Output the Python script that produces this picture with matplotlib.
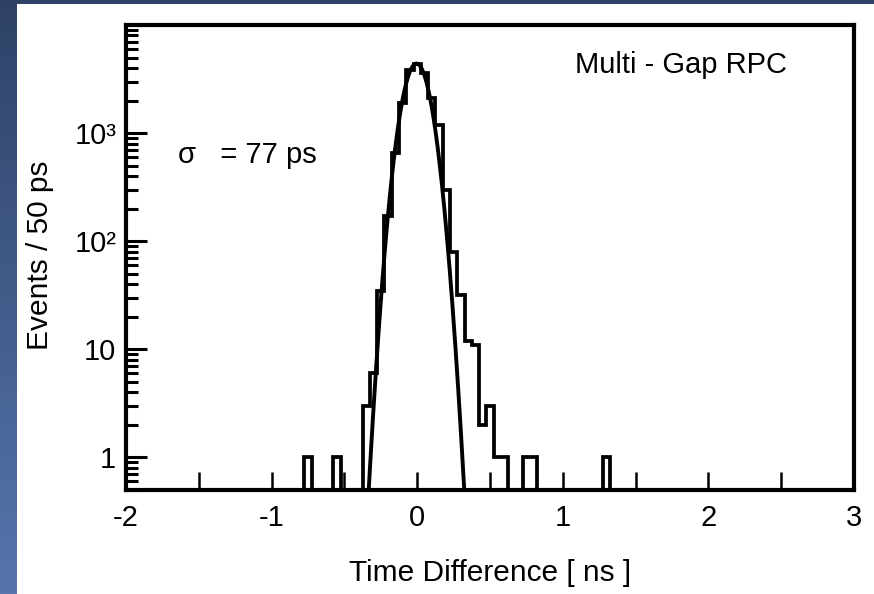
import numpy as np
import matplotlib
matplotlib.use("Agg")
import matplotlib.pyplot as plt
from matplotlib.patches import Rectangle
from matplotlib.ticker import FixedLocator, FixedFormatter, LogLocator, MultipleLocator, NullFormatter

plt.rcParams['font.family'] = ['Liberation Sans', 'DejaVu Sans']

# Time-difference histogram, 50 ps bins (bin centres in ns, entries per bin)
bin_width = 0.05
bin_centers = [-0.75, -0.55, -0.35, -0.30, -0.25, -0.20, -0.15, -0.10, -0.05,
               0.00, 0.05, 0.10, 0.15, 0.20, 0.25, 0.30, 0.35, 0.40, 0.45,
               0.50, 0.55, 0.60, 0.75, 0.80, 1.30]
counts = [1, 1, 3, 6, 35, 170, 650, 1900, 3800,
          4400, 3600, 2100, 1200, 300, 80, 32, 12, 11, 2,
          3, 1, 1, 1, 1, 1]

# Gaussian fit to the peak
fit_amplitude = 4400.0
fit_mean = -0.005      # ns
fit_sigma = 0.077      # ns (77 ps)

x_range = (-2.0, 3.0)
y_range = (0.5, 1.0e4)
y_major = [1, 10, 100, 1000]
y_major_labels = ['1', '10', '10²', '10³']

W, H = 874, 594
fig = plt.figure(figsize=(W / 100, H / 100), dpi=100)

# slide background: blue gradient with a white panel on top
bg = fig.add_axes([0, 0, 1, 1], zorder=-10)
grad = np.linspace(0, 1, 256)[:, None]
top_col = np.array([0.18, 0.26, 0.40])
bot_col = np.array([0.34, 0.46, 0.68])
img = top_col[None, None, :] * (1 - grad[..., None]) + bot_col[None, None, :] * grad[..., None]
bg.imshow(np.repeat(img, 4, axis=1), aspect='auto', extent=[0, 1, 0, 1], origin='upper')
bg.add_patch(Rectangle((17 / W, 0), 1 - 17 / W, 1 - 4 / H, color='white', lw=0))
bg.set_xlim(0, 1)
bg.set_ylim(0, 1)
bg.axis('off')

ax = fig.add_axes([126 / W, 1 - 490 / H, (854 - 126) / W, (490 - 25) / H])
ax.set_facecolor('white')

# full set of bins across the axis range
edges = np.round(np.arange(x_range[0] - bin_width / 2, x_range[1] + bin_width, bin_width), 4)
full = np.zeros(len(edges) - 1)
idx = np.round((np.array(bin_centers) - edges[0] - bin_width / 2) / bin_width).astype(int)
full[idx] = counts
floor = 1e-3
ax.stairs(np.where(full > 0, full, floor), edges, baseline=floor,
          color='black', lw=2.7, zorder=3)

# fitted gaussian
xf = np.linspace(fit_mean - 0.5, fit_mean + 0.5, 800)
yf = fit_amplitude * np.exp(-0.5 * ((xf - fit_mean) / fit_sigma) ** 2)
ax.plot(xf, yf, color='black', lw=2.8, zorder=4)

ax.set_yscale('log')
ax.set_xlim(*x_range)
ax.set_ylim(*y_range)

ax.yaxis.set_major_locator(FixedLocator(y_major))
ax.yaxis.set_major_formatter(FixedFormatter(y_major_labels))
ax.yaxis.set_minor_locator(LogLocator(base=10, subs=np.arange(2, 10)))
ax.yaxis.set_minor_formatter(NullFormatter())
ax.xaxis.set_major_locator(MultipleLocator(1))
ax.xaxis.set_minor_locator(MultipleLocator(0.5))
ax.xaxis.set_major_formatter(lambda v, p: f'{v:.0f}')

ax.tick_params(axis='both', which='both', direction='in', top=False, right=False,
               colors='black', labelsize=21)
ax.tick_params(axis='y', which='major', length=15, width=2.2, pad=7)
ax.tick_params(axis='y', which='minor', length=8.5, width=2.2)
ax.tick_params(axis='x', which='both', length=13, width=1.8, pad=10)

for s in ax.spines.values():
    s.set_linewidth(3.0)
    s.set_color('black')

ax.set_xlabel('Time Difference [ ns ]', fontsize=21.5, va='center')
ax.xaxis.set_label_coords((490 - 126) / 728, (490 - 573) / 465)
ax.set_ylabel('Events / 50 ps', fontsize=21.5, va='center')
ax.yaxis.set_label_coords((40 - 126) / 728, (490 - 255) / 465)

ax.text((681 - 126) / 728, (490 - 65) / 465, 'Multi - Gap RPC', transform=ax.transAxes,
        fontsize=21, ha='center', va='center')
ax.text((178 - 126) / 728, (490 - 155) / 465, 'σ   = 77 ps', transform=ax.transAxes,
        fontsize=21, ha='left', va='center')

fig.savefig('out.png', dpi=100)
